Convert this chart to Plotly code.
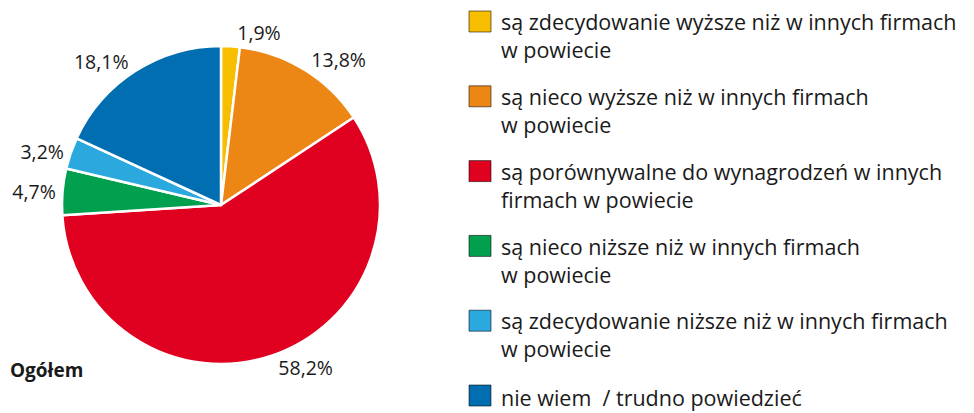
import plotly.graph_objects as go

categories = [
    "są zdecydowanie wyższe niż w innych firmach<br>w powiecie",
    "są nieco wyższe niż w innych firmach<br>w powiecie",
    "są porównywalne do wynagrodzeń w innych<br>firmach w powiecie",
    "są nieco niższe niż w innych firmach<br>w powiecie",
    "są zdecydowanie niższe niż w innych firmach<br>w powiecie",
    "nie wiem\u00a0 / trudno powiedzieć",
]
values = [1.9, 13.8, 58.2, 4.7, 3.2, 18.1]
colors = ["#F7BE00", "#EC8614", "#E0001F", "#00A04F", "#2BA9DF", "#006EB0"]
labels_text = [f"{v:.1f}".replace(".", ",") + "%" for v in values]

W, H = 974, 413
OFF = 8  # page body margin offset
FONT = "Open Sans"
TXT = "#1a1a1a"


def px(x):
    return (x - OFF) / W


def py(y):
    return 1 - (y - OFF) / H


cx, cy, r = 221, 205, 159

fig = go.Figure(go.Pie(
    labels=[c.replace("<br>", " ") for c in categories],
    values=values,
    text=labels_text,
    textinfo="text",
    textposition="outside",
    sort=False,
    direction="clockwise",
    rotation=0,
    marker=dict(colors=colors, line=dict(color="white", width=2.5)),
    textfont=dict(size=19.5, color=TXT, family=FONT),
    domain=dict(x=[px(cx - r), px(cx + r)], y=[py(cy + r), py(cy - r)]),
    showlegend=False,
    hoverinfo="label+percent",
))

fig.add_annotation(
    text="<b>Ogółem</b>", x=px(8), y=py(370), xref="paper", yref="paper",
    xanchor="left", yanchor="middle", showarrow=False,
    font=dict(size=19, color=TXT, family=FONT),
)

# legend (drawn from categories / colors)
base0, step = 32, 74.8
fs = 21.5
lh = 1.3 * fs
mid_shift = 0.388 * fs
for i, (cat, col) in enumerate(zip(categories, colors)):
    b = base0 + step * i
    fig.add_shape(
        type="rect", xref="paper", yref="paper",
        x0=px(469), x1=px(491), y0=py(b), y1=py(b - 21),
        fillcolor=col, line=dict(color="rgba(0,0,0,0.55)", width=1),
    )
    n = len(cat.split("<br>"))
    b1 = b - 2 if n > 1 else b
    fig.add_annotation(
        text=cat, x=px(499), y=py(b1 + (n - 1) * lh / 2 - mid_shift),
        xref="paper", yref="paper", xanchor="left", yanchor="middle",
        align="left", showarrow=False,
        font=dict(size=fs, color=TXT, family=FONT),
    )

fig.update_layout(
    width=W, height=H,
    margin=dict(l=0, r=0, t=0, b=0),
    paper_bgcolor="white",
    plot_bgcolor="white",
)

fig.write_html("out.html")
